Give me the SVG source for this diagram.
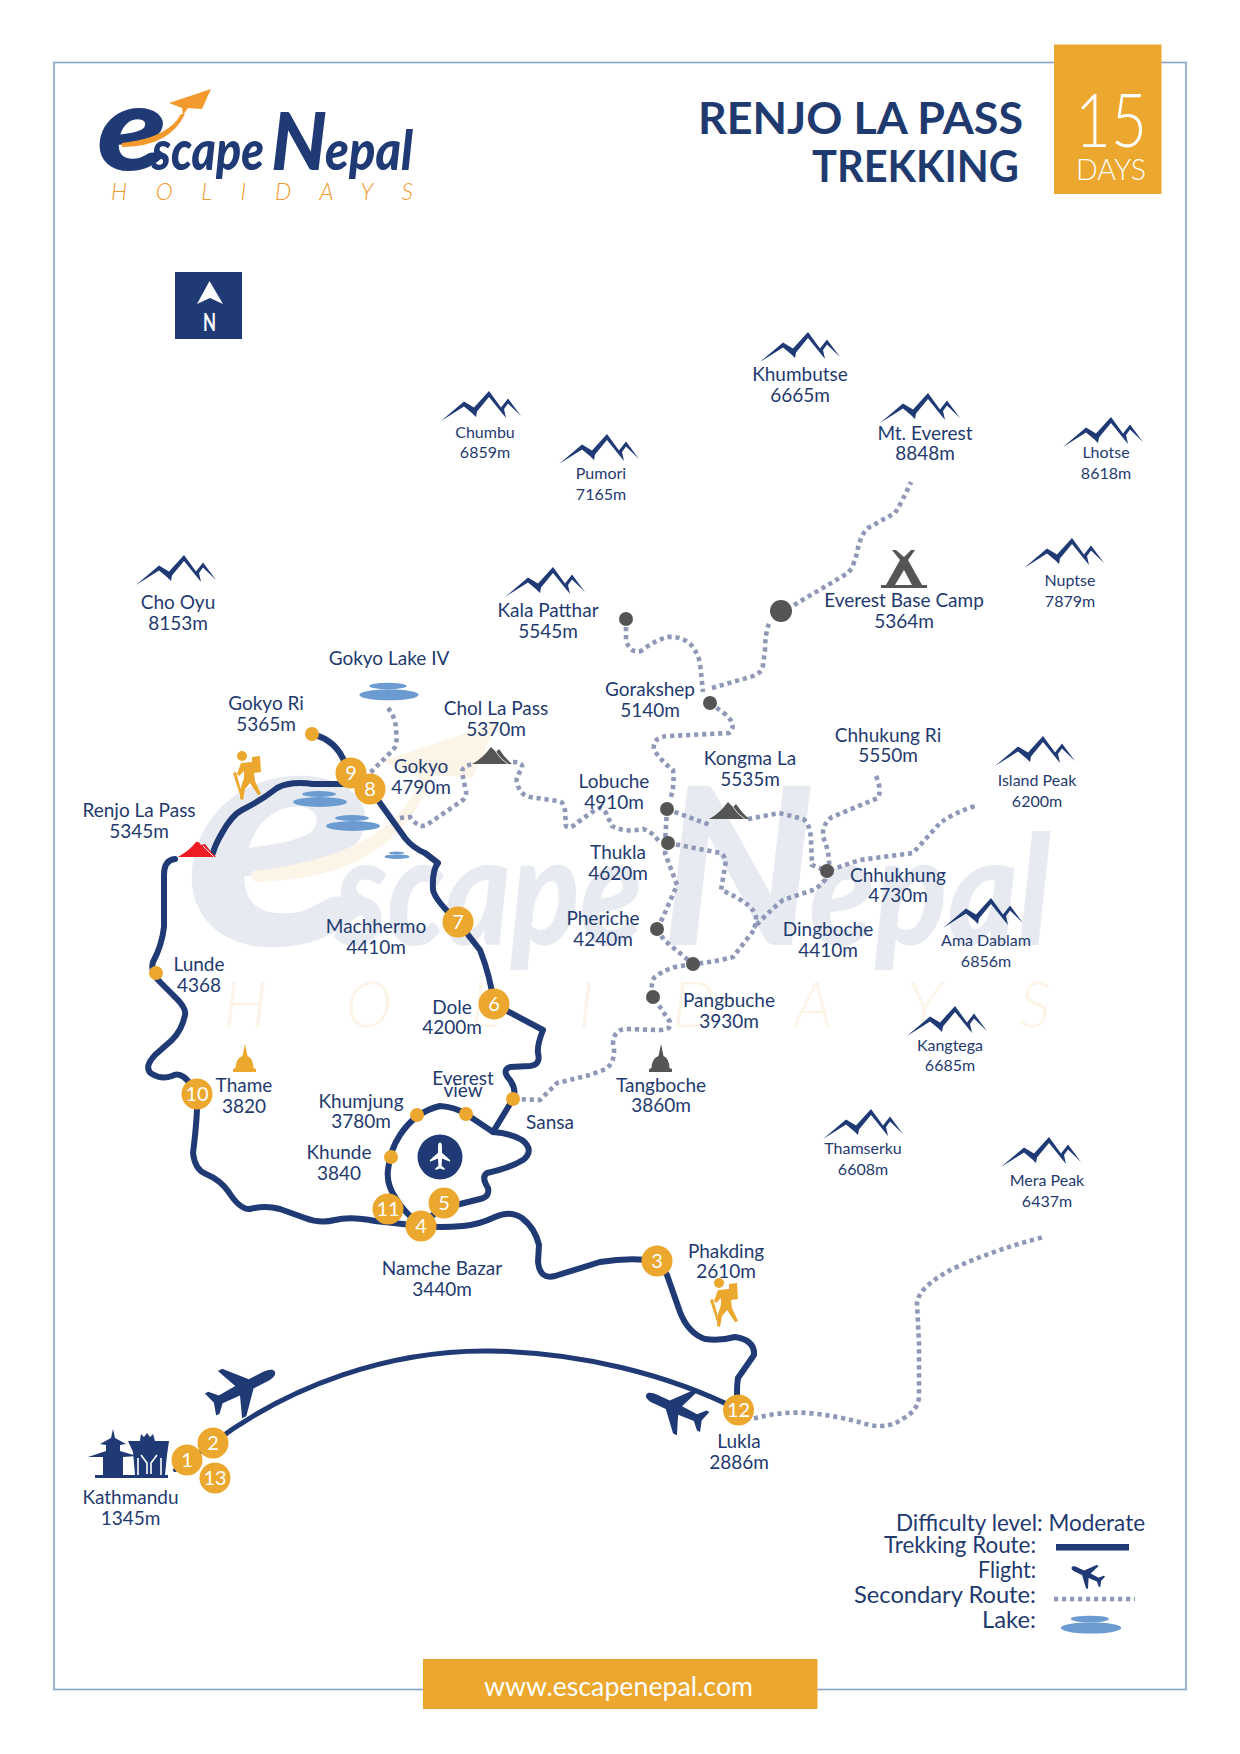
<svg xmlns="http://www.w3.org/2000/svg" width="1240" height="1754" viewBox="0 0 1240 1754">
<style>
text{font-family:"Lato","Liberation Sans",sans-serif;fill:#1F3A6F}
.l{font-size:19px;text-anchor:middle}
.s{font-size:16px;text-anchor:middle}
.n{font-size:20px;text-anchor:middle;fill:#fff}
.lg{font-size:23px;font-weight:400}
.trek{fill:none;stroke:#1F3A75;stroke-width:6;stroke-linecap:round;stroke-linejoin:round}
.sec{fill:none;stroke:#8F98B7;stroke-width:4.6;stroke-dasharray:4.2 3.8}
.gold{fill:#EBA72E}
.grey{fill:#555}
.navy{fill:#1F3A75}
.lake{fill:#6C9BD2}
.brand{font-weight:900;font-style:italic;fill:#1F3A75}
</style>
<defs>
<path id="mt" class="navy" d="M0 30L23 10.500L33 16.500L48 0L60 16.500L67 7.500L80 25L67 12.500L63 18L65 27L48 6L36 20.500L35 26L31.500 22.500L23 15.500Z"/>
<path id="plane" d="M0-40C4-40 5.500-34 5.500-28L5.500-12L28 8L28 13L5.500 4L4.500 24L13 32L13 36L0 32L-13 36L-13 32L-4.500 24L-5.500 4L-28 13L-28 8L-5.500-12L-5.500-28C-5.500-34-4-40 0-40Z"/>
<g id="lk"><ellipse class="lake" cx="0" cy="8" rx="27" ry="5"/><ellipse class="lake" cx="-1" cy="0" rx="17" ry="3"/></g>
<g id="hiker" class="gold"><circle cx="9" cy="5" r="5"/><path d="M8 12L19 11L19 6L27 5L28 21L21 22L22 30L28 43L25 44L17 32L12 38L10 49L7 48L8 36L11 27L11 20L6 25L4 23Z"/><path d="M0 22L3 21L10 46L8 47Z"/></g>
<path id="stupa" d="M12 0L13.500 7L14.500 12Q20 14 20.500 24L23 25L23 28L0 28L0 25L2.500 24Q3 14 9.500 12L10.500 7Z"/>
<g id="pass"><path d="M0 17Q10 12 19 0L24 5L27 2Q32 10 40 17Z"/><path d="M24 5Q28 12 36 17" fill="none" stroke="#fff" stroke-width=".8"/></g>
<g id="logo">
<text x="97" y="170" style="font-size:118px" class="brand" textLength="70" lengthAdjust="spacingAndGlyphs">e</text>
<text x="152" y="170" style="font-size:56px" class="brand" textLength="112" lengthAdjust="spacingAndGlyphs">scape</text>
<text x="271" y="170" style="font-size:80px" class="brand" textLength="56" lengthAdjust="spacingAndGlyphs">N</text>
<text x="325" y="170" style="font-size:56px" class="brand" textLength="88" lengthAdjust="spacingAndGlyphs">epal</text>
<text x="111" y="200" style="font-size:23px;font-weight:300;font-style:italic;fill:#F29A2E" textLength="302" lengthAdjust="spacing">HOLIDAYS</text>
<path fill="#F29A2E" d="M211 89L169 103L182 108L183 115L188 108L202 109Z"/>
<path fill="#F29A2E" d="M181 114Q168 138 122 143Q120 147 124 147Q170 146 185 114Z"/>
</g>
</defs>

<rect width="1240" height="1754" fill="#fff"/>
<g id="watermark" opacity="0.1"><use href="#logo" transform="translate(-81 479) scale(2.74)"/></g>
<rect id="frame" x="54" y="62.500" width="1132" height="1627" fill="none" stroke="#86A3C6" stroke-width="1.600"/>

<g id="logo-main"><use href="#logo"/></g>

<g id="title">
<text x="698" y="134" style="font-size:43px;font-weight:700" textLength="325" lengthAdjust="spacingAndGlyphs">RENJO LA PASS</text>
<text x="812" y="182" style="font-size:43px;font-weight:700" textLength="207" lengthAdjust="spacingAndGlyphs">TREKKING</text>
</g>
<g id="days">
<rect x="1054" y="44.500" width="107.500" height="149.500" class="gold"/>
<text x="1075" y="147" style="font-size:74px;font-weight:300;fill:#fff" textLength="72" lengthAdjust="spacingAndGlyphs">15</text>
<text x="1076" y="179.500" style="font-size:29px;font-weight:300;fill:#fff" textLength="70" lengthAdjust="spacingAndGlyphs">DAYS</text>
</g>

<g id="north">
<rect x="175" y="272" width="67" height="67" class="navy"/>
<path d="M209.500 281L223 304L210 298L197 304Z" fill="#fff"/>
<text x="203" y="331" style="font-size:25px;font-weight:700;fill:#fff" textLength="13" lengthAdjust="spacingAndGlyphs">N</text>
</g>

<g id="lakes">
<g transform="translate(389 686) scale(1.100)"><use href="#lk"/></g>
<use href="#lk" x="320" y="794"/>
<use href="#lk" x="353" y="818"/>
<g transform="translate(397 853) scale(.46)"><use href="#lk"/></g>
</g>

<g id="connectors">
<path id="flight" class="trek" style="stroke-width:5" d="M213 1443C290 1385 390 1350 489 1351C580 1352 670 1375 739 1410"/>
<path class="trek" style="stroke-width:4" d="M175 1470L213 1443"/>
<path class="trek" d="M312 734Q340 741 347 770"/>
<path class="trek" d="M351 784L313 784Q290 781 277 788Q262 800 242 810Q232 815 222 833Q215 845 213 853"/>
<path class="trek" d="M175 859Q164 860 164 875L164 927Q162 945 153 962Q150 972 160 982L173 995Q187 1008 185 1015Q182 1030 172 1040L155 1055Q143 1068 152 1074Q162 1080 172 1076Q183 1069 197 1094Q198 1113 193 1153Q195 1170 206 1174Q220 1180 228 1191Q240 1210 250 1209Q265 1205 280 1209L305 1218Q320 1224 335 1220Q350 1216 375 1221L421 1226Q440 1228 463 1226Q478 1225 495 1217Q510 1210 522 1218Q535 1228 539 1245L538 1262Q540 1280 555 1276L600 1262Q630 1257 657 1261L667 1275L680 1312Q688 1333 705 1339Q720 1341 735 1337Q755 1340 754 1355Q745 1368 738 1378Q736 1390 738 1410"/>
<path class="trek" d="M421 1226Q405 1213 397 1200Q386 1185 388 1170Q390 1150 400 1135Q415 1112 440 1106Q455 1107 466 1114L493 1132Q510 1133 522 1140Q535 1150 523 1160Q510 1168 487 1173Q481 1177 488 1188Q490 1197 480 1199L444 1208"/>
<path class="trek" d="M444 1205L421 1226"/>
<path class="trek" d="M493 1132L513 1099Q517 1090 510 1080Q501 1070 510 1067L530 1066Q541 1065 538 1053Q537 1045 543 1030L494 1004Q490 975 480 950L458 922Q435 900 433 890Q432 870 438 863L425 853Q413 848 405 838L370 789"/>

<path class="sec" d="M626 619L626 640Q630 654 641 651Q655 640 668 637Q680 636 689 643Q697 650 700 663L703 692"/>
<path class="sec" d="M712 688L750 677Q762 674 763 665L765 650Q765 635 769 623"/>
<path class="sec" d="M794 605L848 573L852 568Q855 560 857 553Q860 535 868 528L895 513Q903 500 911 482"/>
<path class="sec" d="M710 703L725 714Q738 725 729 733L670 736Q652 736 654 750Q662 762 673 770Q675 785 670 800"/>
<path class="sec" d="M667 809L710 825"/>
<path class="sec" d="M748 819L779 813L803 819Q810 823 811 840L812 865L827 871"/>
<path class="sec" d="M876 776Q882 790 878 798L832 817Q822 824 823 837Q830 852 829 870"/>
<path class="sec" d="M830 870L860 860L913 853L940 823Q955 812 978 805"/>
<path class="sec" d="M400 818L410 817Q420 830 428 824L463 800Q468 795 465 787L462 772Q462 766 473 764"/>
<path class="sec" d="M513 762Q524 762 522 769Q515 778 517 783Q520 795 530 797L558 801Q565 802 565 812L566 826Q570 830 578 822L595 810Q602 805 606 813L612 826Q625 833 643 829Q653 832 660 843"/>
<path class="sec" d="M667 809L665 843"/>
<path class="sec" d="M667 843L665 853L677 885L664 915L657 929"/>
<path class="sec" d="M668 843L721 853Q727 858 725 867L721 890Q738 897 748 905Q756 912 756 918Q755 928 754 930L733 957Q715 962 693 964"/>
<path class="sec" d="M657 929L664 940L693 964"/>
<path class="sec" d="M827 871L825 880Q818 888 813 890L783 900Q765 915 754 928"/>
<path class="sec" d="M693 964L675 967Q660 972 654 978Q650 985 653 997L660 1007L670 1022Q672 1030 660 1030L625 1029Q614 1030 613 1043Q617 1060 606 1069L590 1075L557 1083L540 1100L513 1099"/>
<path class="sec" d="M738 1418L752 1419Q780 1411 808 1413Q840 1416 869 1425Q890 1429 904 1418Q918 1410 919 1397L919 1343L917 1303Q918 1295 926 1287Q940 1274 961 1265Q1000 1248 1044 1237"/>
<path class="sec" d="M388 708Q396 718 396 730Q398 745 393 750L370 773"/>
</g>

<g id="node-renjo"><path d="M178 857Q190 850 196 842Q199 841 201 845L205 844Q210 851 216 857Z" fill="#EE1C25"/><path d="M203 846L214 857" stroke="#fff" stroke-width="1" fill="none"/><text class="l" x="139" y="817">Renjo La Pass</text><text class="l" x="139" y="838">5345m</text></g>
<g id="node-chola"><use href="#pass" class="grey" x="472" y="747"/><text class="l" x="496" y="715">Chol La Pass</text><text class="l" x="496" y="736">5370m</text></g>
<g id="node-kongma"><use href="#pass" class="grey" x="709" y="802"/><text class="l" x="750" y="765">Kongma La</text><text class="l" x="750" y="786">5535m</text></g>

<g id="mt-khumbutse"><use href="#mt" x="760" y="332"/><text class="l" x="800" y="381">Khumbutse</text><text class="l" x="800" y="402">6665m</text></g>
<g id="mt-chumbu"><use href="#mt" x="441" y="391"/><text class="s" x="485" y="438">Chumbu</text><text class="s" x="485" y="458">6859m</text></g>
<g id="mt-pumori"><use href="#mt" x="559" y="434"/><text class="s" x="601" y="479">Pumori</text><text class="s" x="601" y="500">7165m</text></g>
<g id="mt-everest"><use href="#mt" x="880" y="393"/><text class="l" x="925" y="440">Mt. Everest</text><text class="l" x="925" y="460">8848m</text></g>
<g id="mt-lhotse"><use href="#mt" x="1063" y="417"/><text class="s" x="1106" y="458">Lhotse</text><text class="s" x="1106" y="479">8618m</text></g>
<g id="mt-nuptse"><use href="#mt" x="1024" y="538"/><text class="s" x="1070" y="586">Nuptse</text><text class="s" x="1070" y="607">7879m</text></g>
<g id="mt-kala"><use href="#mt" x="505" y="567"/><text class="l" x="548" y="617">Kala Patthar</text><text class="l" x="548" y="638">5545m</text></g>
<g id="mt-chooyu"><use href="#mt" x="136" y="555"/><text class="l" x="178" y="609">Cho Oyu</text><text class="l" x="178" y="630">8153m</text></g>
<g id="mt-island"><use href="#mt" x="995" y="736"/><text class="s" x="1037" y="786">Island Peak</text><text class="s" x="1037" y="807">6200m</text></g>
<g id="mt-ama"><use href="#mt" x="943" y="898"/><text class="s" x="986" y="946">Ama Dablam</text><text class="s" x="986" y="967">6856m</text></g>
<g id="mt-kangtega"><use href="#mt" x="907" y="1006"/><text class="s" x="950" y="1051">Kangtega</text><text class="s" x="950" y="1071">6685m</text></g>
<g id="mt-thamserku"><use href="#mt" x="823" y="1109"/><text class="s" x="863" y="1154">Thamserku</text><text class="s" x="863" y="1175">6608m</text></g>
<g id="mt-mera"><use href="#mt" x="1001" y="1137"/><text class="s" x="1047" y="1186">Mera Peak</text><text class="s" x="1047" y="1207">6437m</text></g>

<g id="node-ebc"><circle class="grey" cx="781" cy="611" r="11"/><path class="grey" fill-rule="evenodd" d="M892 550L896 550L904 557L911 550L915 550L908 560L922 585L927 585L927 588L881 588L881 585L886 585L900 560ZM904 570L895 585L912 585Z"/><text class="l" x="904" y="607">Everest Base Camp</text><text class="l" x="904" y="628">5364m</text></g>
<g id="node-kalad"><circle class="grey" cx="626" cy="619" r="7"/></g>
<g id="node-gorakshep"><circle class="grey" cx="710" cy="703" r="7"/><text class="l" x="650" y="696">Gorakshep</text><text class="l" x="650" y="717">5140m</text></g>
<g id="node-lobuche"><circle class="grey" cx="667" cy="809" r="7"/><text class="l" x="614" y="788">Lobuche</text><text class="l" x="614" y="809">4910m</text></g>
<g id="node-thukla"><circle class="grey" cx="668" cy="843" r="7"/><text class="l" x="618" y="859">Thukla</text><text class="l" x="618" y="880">4620m</text></g>
<g id="node-chhukhung"><circle class="grey" cx="827" cy="871" r="7"/><text class="l" x="898" y="882">Chhukhung</text><text class="l" x="898" y="902">4730m</text></g>
<g id="node-chhukungri"><text class="l" x="888" y="742">Chhukung Ri</text><text class="l" x="888" y="762">5550m</text></g>
<g id="node-pheriche"><circle class="grey" cx="657" cy="929" r="7"/><text class="l" x="603" y="925">Pheriche</text><text class="l" x="603" y="946">4240m</text></g>
<g id="node-dingboche"><text class="l" x="828" y="936">Dingboche</text><text class="l" x="828" y="957">4410m</text></g>
<g id="node-pangbuche"><circle class="grey" cx="693" cy="964" r="7"/><circle class="grey" cx="653" cy="997" r="7"/><text class="l" x="729" y="1007">Pangbuche</text><text class="l" x="729" y="1028">3930m</text></g>
<g id="node-tangboche"><use href="#stupa" class="grey" x="649" y="1044"/><text class="l" x="661" y="1092">Tangboche</text><text class="l" x="661" y="1112">3860m</text></g>

<g id="node-gokyolake"><text class="l" x="389" y="665">Gokyo Lake IV</text></g>
<g id="node-gokyori"><circle class="gold" cx="312" cy="734" r="7"/><text class="l" x="266" y="710">Gokyo Ri</text><text class="l" x="266" y="731">5365m</text></g>
<g id="node-9"><circle class="gold" cx="351" cy="773" r="15.500"/><text class="n" x="351" y="780">9</text></g>
<g id="node-8"><circle class="gold" cx="370" cy="789" r="15.500"/><text class="n" x="370" y="796">8</text><text class="l" x="421" y="773">Gokyo</text><text class="l" x="421" y="794">4790m</text></g>
<g id="node-7"><circle class="gold" cx="458" cy="922" r="15.500"/><text class="n" x="458" y="929">7</text><text class="l" x="376" y="933">Machhermo</text><text class="l" x="376" y="954">4410m</text></g>
<g id="node-6"><circle class="gold" cx="494" cy="1004" r="15.500"/><text class="n" x="494" y="1011">6</text><text class="l" x="452" y="1014">Dole</text><text class="l" x="452" y="1034">4200m</text></g>
<g id="node-lunde"><circle class="gold" cx="156" cy="973" r="7"/><text class="l" x="199" y="971">Lunde</text><text class="l" x="199" y="992">4368</text></g>
<g id="node-10"><circle class="gold" cx="197" cy="1094" r="15.500"/><text class="n" x="197" y="1101">10</text><use href="#stupa" class="gold" x="233" y="1044"/><text class="l" x="244" y="1092">Thame</text><text class="l" x="244" y="1113">3820</text></g>
<g id="node-khumjung"><circle class="gold" cx="417" cy="1115" r="7"/><text class="l" x="361" y="1108">Khumjung</text><text class="l" x="361" y="1128">3780m</text></g>
<g id="node-everestview"><circle class="gold" cx="466" cy="1114" r="7"/><text class="l" x="463" y="1085">Everest</text><text class="l" x="463" y="1097">view</text></g>
<g id="node-khunde"><circle class="gold" cx="391" cy="1157" r="7"/><text class="l" x="339" y="1159">Khunde</text><text class="l" x="339" y="1180">3840</text></g>
<g id="node-sansa"><circle class="gold" cx="513" cy="1099" r="7"/><text class="l" x="550" y="1129">Sansa</text></g>
<g id="node-airport"><circle class="navy" cx="440" cy="1157" r="22.500"/><use href="#plane" fill="#fff" transform="translate(440 1157) scale(.36)"/></g>
<g id="node-11"><circle class="gold" cx="388" cy="1209" r="15.500"/><text class="n" x="388" y="1216">11</text></g>
<g id="node-5"><circle class="gold" cx="444" cy="1203" r="15.500"/><text class="n" x="444" y="1210">5</text></g>
<g id="node-4"><circle class="gold" cx="421" cy="1226" r="15.500"/><text class="n" x="421" y="1233">4</text><text class="l" x="442" y="1275">Namche Bazar</text><text class="l" x="442" y="1296">3440m</text></g>
<g id="node-3"><circle class="gold" cx="657" cy="1261" r="15.500"/><text class="n" x="657" y="1268">3</text><text class="l" x="726" y="1258">Phakding</text><text class="l" x="726" y="1278">2610m</text></g>
<g id="node-12"><circle class="gold" cx="738.500" cy="1410" r="15.500"/><text class="n" x="738.500" y="1417">12</text><text class="l" x="739" y="1448">Lukla</text><text class="l" x="739" y="1469">2886m</text></g>
<g id="node-kathmandu">
<path class="navy" d="M113 1429L115 1438L126 1444L120 1445L120 1451L137 1456L123 1457L123 1475L168 1475L168 1478L95 1478L95 1475L103 1475L103 1457L88 1457L106 1451L106 1445L100 1444L111 1438Z"/>
<path class="navy" d="M128 1441L140 1441L141 1434L144 1437L147 1433L150 1437L153 1434L155 1441L169 1441L167 1455L165 1475L135 1475L133 1452Z"/>
<path d="M141 1455L147 1463L147 1474M157 1455L151 1463L151 1474M138 1458L138 1475M161 1458L161 1475" fill="none" stroke="#fff" stroke-width="1.600"/>
<text class="l" x="130.500" y="1504">Kathmandu</text><text class="l" x="130.500" y="1525">1345m</text>
</g>
<g id="node-1"><circle class="gold" cx="187" cy="1460" r="15.500"/><text class="n" x="187" y="1467">1</text></g>
<g id="node-2"><circle class="gold" cx="213" cy="1443" r="15.500"/><text class="n" x="213" y="1450">2</text></g>
<g id="node-13"><circle class="gold" cx="215" cy="1478" r="15.500"/><text class="n" x="215" y="1485">13</text></g>

<g id="icons">
<use href="#hiker" x="233" y="751"/>
<use href="#hiker" x="710" y="1278"/>
<use href="#plane" class="navy" transform="translate(241 1389) rotate(63) scale(.95)"/>
<use href="#plane" class="navy" transform="translate(677 1409) rotate(-65) scale(.85)"/>
</g>

<g id="legend">
<text class="lg" x="896" y="1531" textLength="249" lengthAdjust="spacingAndGlyphs">Difficulty level: Moderate</text>
<text class="lg" x="884" y="1553" textLength="152" lengthAdjust="spacingAndGlyphs">Trekking Route:</text>
<text class="lg" x="978" y="1578" textLength="58" lengthAdjust="spacingAndGlyphs">Flight:</text>
<text class="lg" x="854" y="1603" textLength="182" lengthAdjust="spacingAndGlyphs">Secondary Route:</text>
<text class="lg" x="982" y="1628" textLength="54" lengthAdjust="spacingAndGlyphs">Lake:</text>
<rect x="1056" y="1544" width="73" height="6.500" class="navy"/>
<use href="#plane" class="navy" transform="translate(1088 1575) rotate(-65) scale(.45)"/>
<path class="sec" d="M1054 1599H1135"/>
<g transform="translate(1091 1619) scale(1.120)"><use href="#lk"/></g>
</g>

<g id="footer">
<rect x="423" y="1659" width="394.500" height="50" class="gold"/>
<text x="484" y="1696" style="font-size:26px;fill:#fff" textLength="269" lengthAdjust="spacingAndGlyphs">www.escapenepal.com</text>
</g>
</svg>
